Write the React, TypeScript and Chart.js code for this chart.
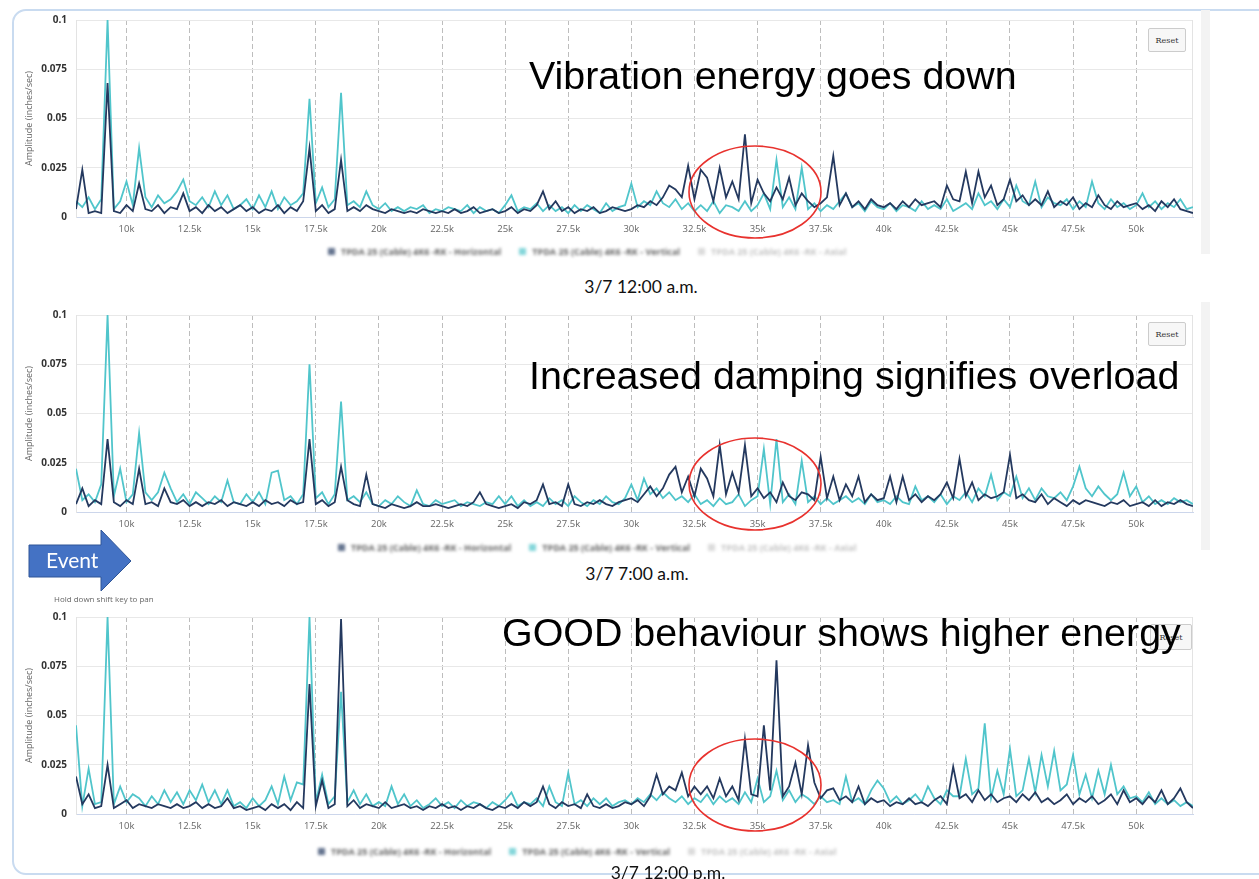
import React, { useEffect, useRef } from "react";
import { Chart, registerables } from "chart.js";
Chart.register(...registerables);

// Frequency bins (Hz)
const FREQ = [
  8000, 8250, 8500, 8750, 9000, 9250, 9500, 9750, 10000, 10250, 10500, 10750,
  11000, 11250, 11500, 11750, 12000, 12250, 12500, 12750, 13000, 13250, 13500, 13750,
  14000, 14250, 14500, 14750, 15000, 15250, 15500, 15750, 16000, 16250, 16500, 16750,
  17000, 17250, 17500, 17750, 18000, 18250, 18500, 18750, 19000, 19250, 19500, 19750,
  20000, 20250, 20500, 20750, 21000, 21250, 21500, 21750, 22000, 22250, 22500, 22750,
  23000, 23250, 23500, 23750, 24000, 24250, 24500, 24750, 25000, 25250, 25500, 25750,
  26000, 26250, 26500, 26750, 27000, 27250, 27500, 27750, 28000, 28250, 28500, 28750,
  29000, 29250, 29500, 29750, 30000, 30250, 30500, 30750, 31000, 31250, 31500, 31750,
  32000, 32250, 32500, 32750, 33000, 33250, 33500, 33750, 34000, 34250, 34500, 34750,
  35000, 35250, 35500, 35750, 36000, 36250, 36500, 36750, 37000, 37250, 37500, 37750,
  38000, 38250, 38500, 38750, 39000, 39250, 39500, 39750, 40000, 40250, 40500, 40750,
  41000, 41250, 41500, 41750, 42000, 42250, 42500, 42750, 43000, 43250, 43500, 43750,
  44000, 44250, 44500, 44750, 45000, 45250, 45500, 45750, 46000, 46250, 46500, 46750,
  47000, 47250, 47500, 47750, 48000, 48250, 48500, 48750, 49000, 49250, 49500, 49750,
  50000, 50250, 50500, 50750, 51000, 51250, 51500, 51750, 52000, 52250,
];

// Amplitudes in thousandths of inches/sec (axis labels show inches/sec)
// 3/7 12:00 a.m.
const H_0000 = [
  4, 24, 2, 3, 2, 68, 3, 2, 6, 3, 17, 4,
  3, 6, 2, 5, 4, 12, 3, 5, 2, 6, 3, 5,
  2, 4, 6, 3, 5, 2, 4, 3, 6, 2, 5, 3,
  8, 35, 3, 6, 2, 4, 29, 3, 5, 3, 6, 4,
  3, 2, 4, 3, 2, 3, 2, 4, 3, 2, 3, 2,
  4, 2, 3, 5, 2, 3, 4, 2, 3, 5, 2, 4,
  3, 6, 13, 4, 8, 3, 5, 2, 4, 3, 5, 2,
  3, 5, 4, 3, 4, 6, 5, 8, 6, 10, 16, 14,
  10, 26, 9, 24, 20, 8, 25, 10, 18, 9, 42, 7,
  19, 12, 8, 15, 9, 20, 6, 12, 8, 5, 7, 10,
  31, 6, 12, 5, 8, 4, 9, 6, 5, 7, 4, 8,
  5, 9, 6, 7, 8, 5, 16, 9, 8, 23, 7, 23,
  10, 16, 6, 9, 19, 8, 11, 6, 9, 6, 13, 5,
  8, 6, 10, 4, 7, 5, 11, 6, 4, 8, 5, 6,
  7, 4, 6, 3, 8, 5, 9, 4, 3, 2,
];
const V_0000 = [
  8, 5, 10, 4, 9, 100, 4, 8, 18, 6, 35, 10,
  5, 11, 7, 9, 13, 19, 8, 6, 10, 5, 13, 6,
  11, 4, 6, 9, 4, 11, 5, 13, 4, 10, 6, 8,
  12, 60, 7, 15, 5, 9, 63, 6, 8, 5, 13, 6,
  4, 7, 3, 5, 3, 5, 4, 6, 2, 4, 3, 5,
  4, 3, 6, 2, 5, 3, 4, 2, 6, 11, 3, 5,
  4, 7, 3, 6, 3, 5, 2, 6, 3, 6, 4, 2,
  7, 3, 5, 6, 17, 5, 8, 6, 13, 7, 5, 9,
  4, 7, 3, 6, 3, 8, 2, 6, 5, 3, 8, 3,
  6, 12, 4, 29, 5, 10, 4, 25, 4, 7, 3, 6,
  4, 8, 12, 5, 7, 3, 8, 5, 4, 7, 3, 6,
  5, 3, 8, 4, 6, 4, 9, 3, 5, 7, 4, 12,
  6, 8, 4, 9, 5, 16, 8, 6, 18, 5, 10, 7,
  6, 9, 4, 8, 5, 18, 7, 4, 9, 5, 7, 4,
  6, 12, 5, 8, 4, 7, 5, 9, 4, 5,
];

// 3/7 7:00 a.m.
const H_0700 = [
  4, 12, 3, 6, 4, 37, 5, 3, 6, 4, 22, 4,
  5, 3, 12, 5, 4, 6, 3, 5, 3, 5, 4, 6,
  3, 5, 4, 3, 5, 3, 6, 4, 5, 3, 6, 4,
  5, 37, 4, 6, 3, 5, 23, 6, 4, 3, 19, 4,
  3, 2, 4, 3, 2, 3, 5, 3, 3, 4, 3, 2,
  3, 4, 3, 5, 10, 4, 3, 2, 3, 4, 2, 5,
  4, 6, 14, 4, 5, 3, 14, 4, 3, 5, 4, 6,
  4, 3, 5, 6, 7, 5, 9, 13, 8, 12, 19, 23,
  10, 18, 8, 22, 17, 8, 34, 9, 20, 10, 34, 8,
  12, 7, 10, 5, 15, 8, 6, 10, 9, 6, 28, 7,
  18, 6, 14, 8, 18, 5, 9, 6, 7, 18, 5, 18,
  6, 9, 5, 8, 6, 9, 15, 7, 27, 8, 15, 6,
  9, 7, 8, 10, 29, 7, 9, 6, 5, 9, 4, 7,
  5, 3, 6, 4, 6, 5, 4, 3, 5, 4, 6, 3,
  4, 5, 3, 6, 3, 5, 4, 6, 4, 3,
];
const V_0700 = [
  22, 6, 9, 5, 14, 100, 8, 22, 5, 9, 40, 10,
  6, 10, 20, 12, 5, 9, 4, 10, 7, 4, 8, 5,
  16, 5, 4, 9, 5, 10, 4, 20, 21, 6, 8, 4,
  9, 75, 7, 10, 4, 9, 56, 6, 8, 5, 10, 4,
  3, 6, 4, 8, 5, 3, 11, 4, 3, 6, 4, 5,
  6, 3, 5, 4, 3, 5, 4, 8, 4, 8, 3, 6,
  3, 5, 3, 7, 4, 6, 3, 8, 5, 3, 6, 4,
  8, 5, 4, 7, 14, 6, 17, 9, 12, 7, 10, 6,
  8, 5, 9, 4, 6, 3, 7, 4, 5, 9, 3, 6,
  8, 32, 4, 37, 5, 9, 4, 26, 5, 8, 4, 7,
  4, 6, 8, 5, 7, 4, 9, 5, 6, 4, 8, 5,
  4, 13, 6, 8, 5, 9, 4, 8, 6, 10, 5, 12,
  8, 19, 6, 10, 8, 18, 7, 12, 6, 12, 8, 7,
  10, 6, 13, 23, 12, 8, 13, 9, 6, 9, 20, 8,
  13, 5, 8, 4, 6, 4, 7, 5, 6, 4,
];

// 3/7 12:00 p.m.
const H_1200 = [
  19, 5, 10, 3, 4, 25, 3, 5, 7, 3, 5, 4,
  3, 5, 4, 3, 5, 3, 4, 6, 3, 5, 3, 4,
  8, 3, 4, 2, 3, 4, 2, 5, 3, 5, 2, 6,
  3, 66, 4, 17, 3, 5, 99, 4, 7, 3, 5, 4,
  3, 6, 3, 4, 5, 3, 4, 2, 4, 3, 5, 3,
  4, 2, 4, 3, 5, 3, 2, 4, 3, 5, 3, 6,
  4, 6, 14, 5, 3, 6, 4, 5, 3, 10, 4, 3,
  5, 3, 4, 6, 5, 7, 4, 9, 20, 10, 14, 12,
  21, 9, 14, 10, 14, 8, 18, 9, 14, 7, 38, 10,
  9, 45, 12, 78, 9, 14, 26, 10, 35, 16, 8, 12,
  13, 7, 9, 6, 14, 5, 8, 6, 7, 4, 6, 5,
  8, 5, 6, 4, 7, 9, 5, 24, 8, 10, 6, 12,
  7, 10, 6, 8, 9, 6, 10, 7, 11, 6, 8, 5,
  7, 10, 5, 8, 6, 9, 5, 7, 10, 5, 12, 6,
  8, 5, 9, 6, 12, 5, 8, 13, 6, 3,
];
const V_1200 = [
  45, 4, 23, 5, 6, 100, 5, 14, 6, 10, 8, 4,
  9, 5, 12, 6, 11, 5, 12, 7, 15, 6, 12, 5,
  12, 4, 6, 3, 8, 4, 7, 14, 5, 19, 7, 16,
  15, 100, 6, 20, 5, 9, 62, 6, 12, 5, 10, 4,
  6, 4, 14, 5, 10, 4, 7, 3, 5, 8, 4, 6,
  3, 7, 4, 6, 5, 3, 6, 4, 7, 11, 4, 6,
  5, 8, 4, 14, 6, 4, 21, 5, 7, 4, 8, 5,
  8, 4, 6, 7, 5, 8, 6, 10, 7, 11, 8, 6,
  9, 5, 8, 6, 10, 5, 9, 6, 8, 5, 11, 6,
  18, 6, 9, 22, 7, 12, 6, 10, 8, 5, 9, 6,
  7, 5, 19, 6, 8, 5, 12, 17, 13, 6, 9, 5,
  7, 10, 6, 14, 8, 5, 12, 9, 9, 28, 10, 13,
  46, 8, 22, 10, 33, 9, 12, 28, 11, 30, 14, 32,
  12, 15, 30, 10, 20, 8, 22, 10, 25, 10, 14, 8,
  9, 6, 11, 5, 8, 5, 7, 4, 6, 4,
];

const X_TICKS = [10000, 12500, 15000, 17500, 20000, 22500, 25000, 27500, 30000, 32500, 35000, 37500, 40000, 42500, 45000, 47500, 50000];
const X_TICK_LABELS = ["10k", "12.5k", "15k", "17.5k", "20k", "22.5k", "25k", "27.5k", "30k", "32.5k", "35k", "37.5k", "40k", "42.5k", "45k", "47.5k", "50k"];
const Y_TICKS = [0, 25, 50, 75, 100];
const Y_TICK_LABELS = ["0", "0.025", "0.05", "0.075", "0.1"];

const SERIES_NAMES = ["TPDA 25 (Cable) 4K6 -RK - Horizontal", "TPDA 25 (Cable) 4K6 -RK - Vertical", "TPDA 25 (Cable) 4K6 -RK - Axial"];
const DARK = "#24395f";
const CYAN = "#50c5cb";

const framePlugin = {
  id: "frame",
  beforeDatasetsDraw(chart: any) {
    const { ctx, chartArea: a } = chart;
    ctx.save();
    ctx.strokeStyle = "#e3e3e3";
    ctx.lineWidth = 1;
    ctx.beginPath();
    ctx.moveTo(Math.round(a.right) - 0.5, a.top);
    ctx.lineTo(Math.round(a.right) - 0.5, a.bottom);
    ctx.stroke();
    ctx.restore();
  },
};

const CANVAS_W = 1180;
const CANVAS_H = 240;

function Panel({ top, dark, cyan }: { top: number; dark: number[]; cyan: number[] }) {
  const ref = useRef<HTMLCanvasElement>(null);
  useEffect(() => {
    const chart = new Chart(ref.current as HTMLCanvasElement, {
      type: "line",
      data: {
        datasets: [
          {
            label: SERIES_NAMES[0],
            data: FREQ.map((f, i) => ({ x: f, y: dark[i] })),
            borderColor: DARK,
            borderWidth: 1.8,
            pointRadius: 0,
            tension: 0,
          },
          {
            label: SERIES_NAMES[1],
            data: FREQ.map((f, i) => ({ x: f, y: cyan[i] })),
            borderColor: CYAN,
            borderWidth: 1.8,
            pointRadius: 0,
            tension: 0,
          },
        ],
      },
      options: {
        animation: false,
        responsive: false,
        events: [],
        layout: { padding: { top: 7, right: 7, left: 0, bottom: 0 } },
        plugins: { legend: { display: false }, tooltip: { enabled: false } },
        scales: {
          x: {
            type: "linear",
            min: 8000,
            max: 52250,
            afterBuildTicks: (s: any) => {
              s.ticks = X_TICKS.map((v) => ({ value: v }));
            },
            afterFit: (s: any) => {
              s.height = 28;
            },
            ticks: {
              callback: (_v: any, i: number) => X_TICK_LABELS[i],
              font: { size: 9.5, family: "Open Sans" },
              color: "#666",
              padding: 7,
              maxRotation: 0,
              autoSkip: false,
            },
            grid: { color: "#bdbdbd", drawTicks: false, lineWidth: 1 },
            border: { color: "#ccd6eb", width: 1, dash: [5, 3] },
          },
          y: {
            min: 0,
            max: 100,
            afterBuildTicks: (s: any) => {
              s.ticks = Y_TICKS.map((v) => ({ value: v }));
            },
            afterFit: (s: any) => {
              s.width = 56;
            },
            ticks: {
              callback: (_v: any, i: number) => Y_TICK_LABELS[i],
              font: { size: 10, weight: "bold", family: "Open Sans" },
              color: "#333",
              padding: 9,
            },
            grid: { color: "#e8e8e8", drawTicks: false },
            border: { color: "#e3e3e3" },
            title: {
              display: true,
              text: "Amplitude (inches/sec)",
              font: { size: 9, family: "Open Sans" },
              color: "#666",
              padding: { top: 4, bottom: 0 },
            },
          },
        },
      } as any,
      plugins: [framePlugin],
    });
    return () => chart.destroy();
  }, []);
  return (
    <canvas
      ref={ref}
      width={CANVAS_W}
      height={CANVAS_H}
      style={{ position: "absolute", left: 20, top, width: CANVAS_W, height: CANVAS_H }}
    />
  );
}

function Legend({ top, left }: { top: number; left: number }) {
  const colors = [DARK, CYAN, "#ccc"];
  const textColors = ["#666", "#666", "#c4c4c4"];
  return (
    <div
      style={{
        position: "absolute",
        left,
        top,
        display: "flex",
        gap: 18,
        alignItems: "center",
        fontFamily: "Open Sans",
        fontSize: 9,
        fontWeight: "bold",
        filter: "blur(1.8px)",
        whiteSpace: "nowrap",
      }}
    >
      {SERIES_NAMES.map((n, i) => (
        <div key={n} style={{ display: "flex", alignItems: "center", gap: 6, color: textColors[i] }}>
          <span style={{ width: 7, height: 7, background: colors[i], opacity: 0.7, display: "inline-block" }} />
          {n}
        </div>
      ))}
    </div>
  );
}

function ResetButton({ left, top, w, h }: { left: number; top: number; w: number; h: number }) {
  return (
    <div
      style={{
        position: "absolute",
        left,
        top,
        width: w,
        height: h,
        background: "#f7f7f7",
        border: "1px solid #cccccc",
        borderRadius: 2,
        boxSizing: "border-box",
        fontFamily: "DejaVu Serif",
        fontSize: 8,
        color: "#333",
        display: "flex",
        alignItems: "center",
        justifyContent: "center",
      }}
    >
      Reset
    </div>
  );
}

const bigText: React.CSSProperties = {
  position: "absolute",
  fontFamily: "Liberation Sans",
  fontSize: 39.4,
  lineHeight: "39px",
  color: "#000",
  whiteSpace: "nowrap",
};
const dateText: React.CSSProperties = {
  position: "absolute",
  fontFamily: "Lato",
  fontSize: 17.5,
  color: "#111",
  whiteSpace: "nowrap",
  transform: "translate(-50%, -50%)",
};

export default function App() {
  return (
    <div style={{ position: "absolute", left: 0, top: 0, width: 1259, height: 879, background: "#fff", overflow: "hidden" }}>
      <div
        style={{
          position: "absolute",
          left: 12,
          top: 9,
          width: 1270,
          height: 866,
          border: "2px solid #c9dbf0",
          borderRadius: 14,
          boxSizing: "border-box",
        }}
      />
      <div style={{ position: "absolute", left: 1201, top: 10, width: 9, height: 244, background: "#f3f3f3" }} />
      <div style={{ position: "absolute", left: 1201, top: 302, width: 9, height: 248, background: "#f3f3f3" }} />

      <Panel top={5} dark={H_0000} cyan={V_0000} />
      <Panel top={300} dark={H_0700} cyan={V_0700} />
      <Panel top={602} dark={H_1200} cyan={V_1200} />

      <ResetButton left={1148} top={28} w={38} h={24} />
      <ResetButton left={1148} top={322} w={38} h={24} />
      <ResetButton left={1150} top={624} w={42} h={26} />

      <Legend left={328} top={245} />
      <Legend left={338} top={541} />
      <Legend left={318} top={845} />

      <div style={{ ...dateText, left: 641, top: 286 }}>3/7 12:00 a.m.</div>
      <div style={{ ...dateText, left: 637, top: 573 }}>3/7 7:00 a.m.</div>
      <div style={{ ...dateText, left: 668, top: 872 }}>3/7 12:00 p.m.</div>

      <div style={{ ...bigText, left: 529, top: 56 }}>Vibration energy goes down</div>
      <div style={{ ...bigText, left: 529, top: 356 }}>Increased damping signifies overload</div>
      <div style={{ ...bigText, left: 502, top: 613 }}>GOOD behaviour shows higher energy</div>

      <div style={{ position: "absolute", left: 54, top: 593, fontFamily: "Open Sans", fontSize: 8, color: "#666", whiteSpace: "nowrap" }}>
        Hold down shift key to pan
      </div>

      <svg width={1259} height={879} style={{ position: "absolute", left: 0, top: 0, pointerEvents: "none" }}>
        <polygon
          points="29,545 101,545 101,530 131,561 101,591 101,577 29,577"
          fill="#4472c4"
          stroke="#2f5597"
          strokeWidth={1}
        />
        <text x={46} y={568} fill="#fff" fontFamily="Lato" fontSize={21}>
          Event
        </text>
        <ellipse cx={755} cy={192} rx={66} ry={46} fill="none" stroke="#e8322e" strokeWidth={1.6} />
        <ellipse cx={755} cy={484} rx={66} ry={46} fill="none" stroke="#e8322e" strokeWidth={1.6} />
        <ellipse cx={755} cy={785} rx={66} ry={46} fill="none" stroke="#e8322e" strokeWidth={1.6} />
      </svg>
    </div>
  );
}
